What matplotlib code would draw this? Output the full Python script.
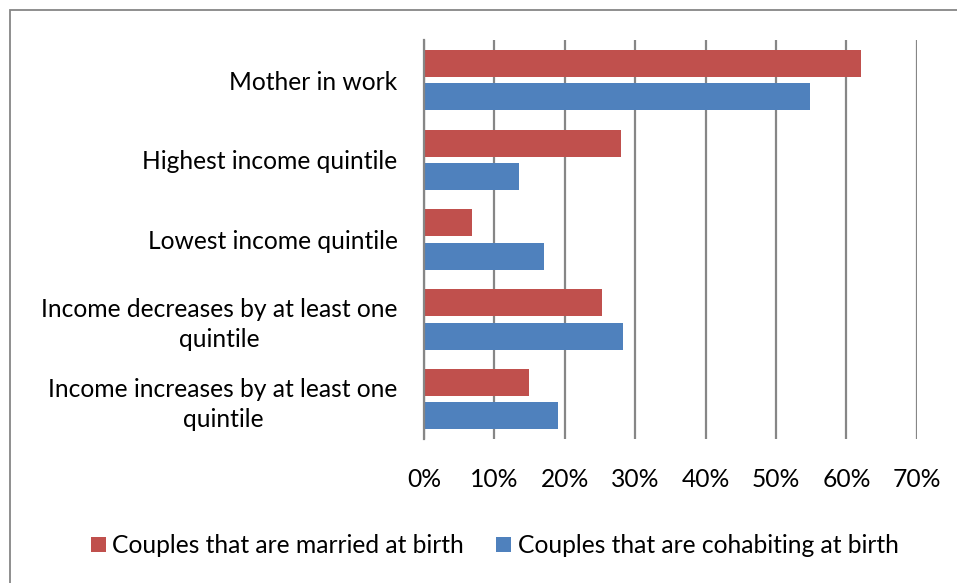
import matplotlib.pyplot as plt
import matplotlib.patches as mpatches
import numpy as np

plt.rcParams['font.family'] = ['Lato', 'DejaVu Sans']

# data (top to bottom as in the chart)
categories = ['Mother in work',
              'Highest income quintile',
              'Lowest income quintile',
              'Income decreases by at least one\nquintile',
              'Income increases by at least one\nquintile']
married = [62.1, 28.0, 6.8, 25.3, 14.9]
cohabiting = [54.8, 13.5, 17.1, 28.3, 19.0]
xticks = [0, 10, 20, 30, 40, 50, 60, 70]

red = '#C0504D'
blue = '#4F81BD'
grid_col = '#868686'
fs = 17.7

fig = plt.figure(figsize=(9.57, 5.83), dpi=100)
ax = fig.add_axes([0.443, 0.247, 0.515, 0.684])

y = np.arange(len(categories))
h = 0.34
ax.barh(y - 0.21, married, height=h, color=red, label='Couples that are married at birth', zorder=3)
ax.barh(y + 0.21, cohabiting, height=h, color=blue, label='Couples that are cohabiting at birth', zorder=3)

ax.set_xlim(0, 70)
ax.set_ylim(len(categories) - 0.5, -0.5)
ax.set_xticks(xticks)
ax.set_xticklabels([f'{t}%' for t in xticks])
ax.set_yticks(y)
ax.set_yticklabels(categories, multialignment='center', linespacing=1.35)
ax.tick_params(axis='both', length=0, labelsize=fs, colors='black')
ax.tick_params(axis='x', pad=21)
ax.tick_params(axis='y', pad=19)
ax.xaxis.grid(True, color=grid_col, linewidth=1.6, zorder=0)
for s in ['top', 'right', 'bottom']:
    ax.spines[s].set_visible(False)
ax.spines['left'].set_color(grid_col)
ax.spines['left'].set_linewidth(1.6)
ax.spines['left'].set_zorder(4)

handles, labels = ax.get_legend_handles_labels()
fig.legend(handles, labels, loc='center', bbox_to_anchor=(0.517, 0.064), ncol=2,
           frameon=False, fontsize=fs, handlelength=0.6, handleheight=0.6,
           handletextpad=0.28, columnspacing=1.3)

# outer chart border
fig.patches.append(mpatches.Rectangle((10 / 957, -0.05), 1.1, 1 - 10 / 583 + 0.05,
                                      transform=fig.transFigure, fill=False,
                                      edgecolor='#868686', linewidth=1.3))

fig.savefig('out.png', dpi=100)
